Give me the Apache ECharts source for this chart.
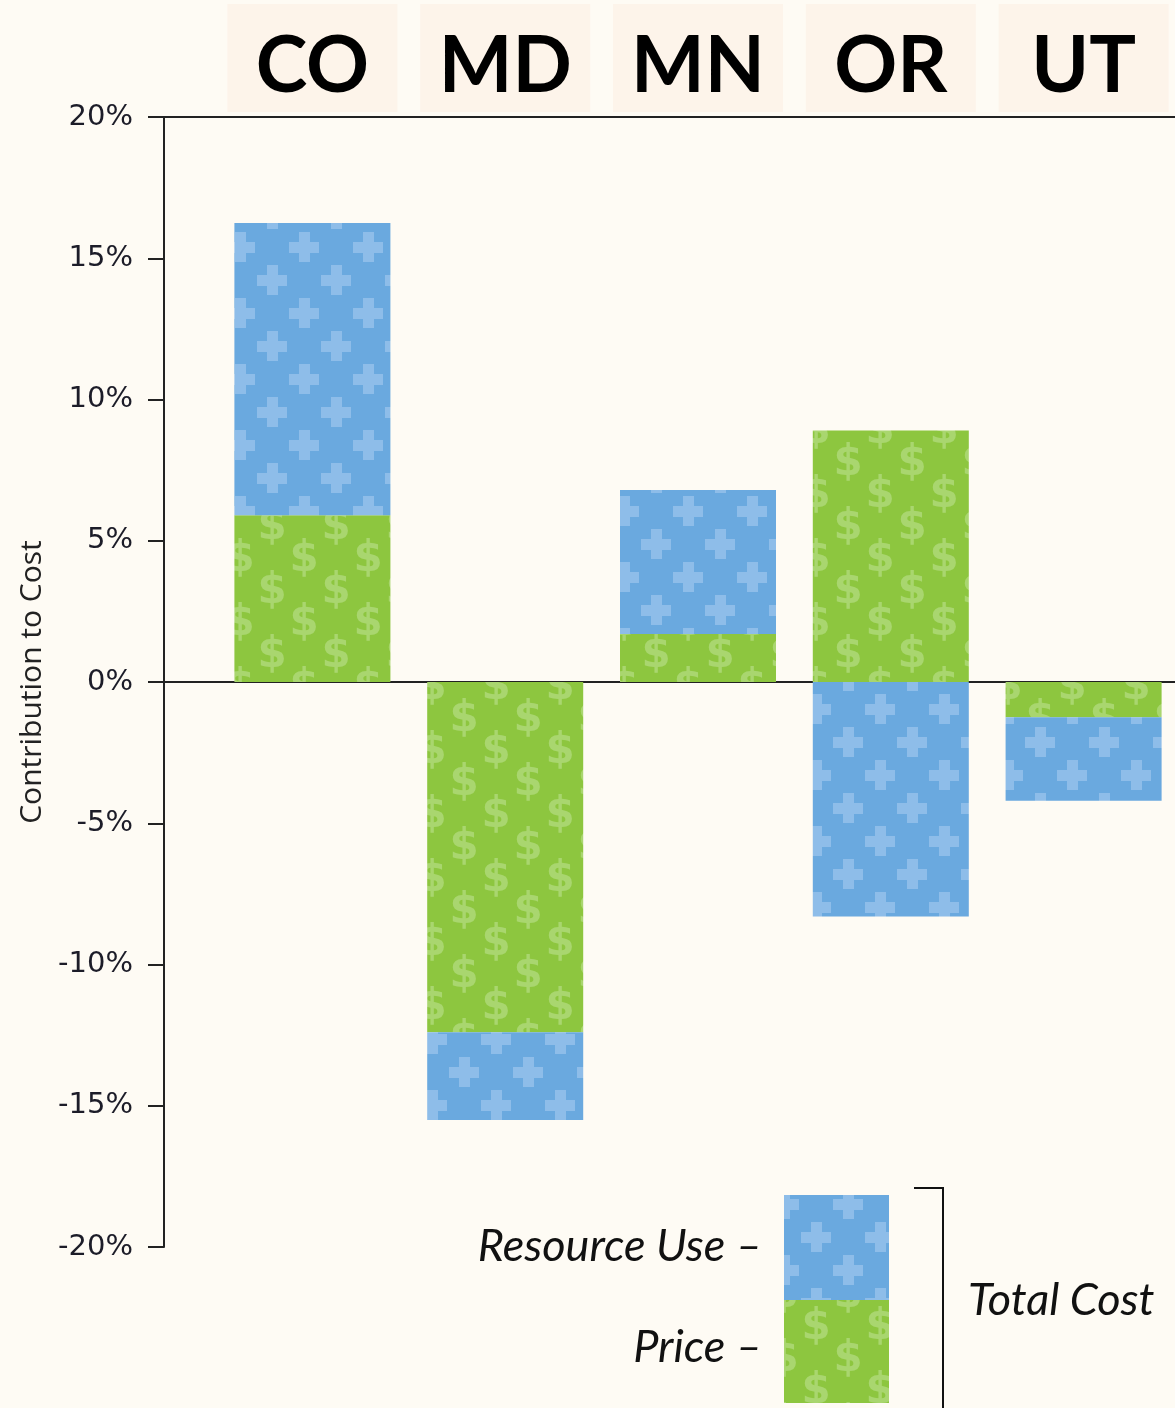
<!DOCTYPE html>
<html>
<head>
<meta charset="utf-8">
<script src="https://cdn.jsdelivr.net/npm/echarts@6/dist/echarts.min.js"></script>
<style>
  html, body { margin: 0; padding: 0; background: #fefbf4; }
  #chart { width: 1175px; height: 1408px; }
</style>
</head>
<body>
<div id="chart"></div>
<script>
const states = ['CO', 'MD', 'MN', 'OR', 'UT'];
const priceValues = [5.9, -12.4, 1.7, 8.9, -1.25];
const resourceValues = [10.35, -3.1, 5.1, -8.3, -2.95];
const yTicks = { min: -20, max: 20, step: 5 };

const BLUE = '#6aa9df', BLUE_LIGHT = '#8ebde9';
const GREEN = '#8dc63f', GREEN_LIGHT = '#a9d66f';

function crossPattern() {
    const c = document.createElement('canvas');
    c.width = 64; c.height = 66;
    const ctx = c.getContext('2d');
    ctx.fillStyle = BLUE;
    ctx.fillRect(0, 0, 64, 66);
    ctx.fillStyle = BLUE_LIGHT;
    const cross = (x, y) => {
        ctx.fillRect(x - 15, y - 5, 30, 11);
        ctx.fillRect(x - 5, y - 15, 11, 30);
    };
    [[16, 16], [48, 49], [-16, 49], [80, 49], [48, -17], [-16, -17], [16, 82], [80, -17], [-16, 115]].forEach(p => cross(p[0], p[1]));
    return c;
}

function dollarPattern() {
    const c = document.createElement('canvas');
    c.width = 64; c.height = 64;
    const ctx = c.getContext('2d');
    ctx.fillStyle = GREEN;
    ctx.fillRect(0, 0, 64, 64);
    ctx.fillStyle = GREEN_LIGHT;
    ctx.font = 'bold 42px "DejaVu Sans"';
    ctx.textAlign = 'center';
    ctx.textBaseline = 'middle';
    [[16, 16], [48, 48], [-16, 48], [80, 48], [48, -16], [-16, -16], [80, -16], [16, 80]].forEach(p => ctx.fillText('$', p[0], p[1]));
    return c;
}

const bluePat = { image: crossPattern(), repeat: 'repeat' };
const greenPat = { image: dollarPattern(), repeat: 'repeat' };

const chart = echarts.init(document.getElementById('chart'));
chart.setOption({
    backgroundColor: '#fefbf4',
    animation: false,
    grid: { left: 216, top: 117, width: 964, bottom: 161, outerBoundsMode: 'none', containLabel: false },
    xAxis: [
        {
            type: 'category',
            data: states,
            position: 'top',
            axisLine: { onZero: false, lineStyle: { color: '#222', width: 2 } },
            axisTick: { inside: true, length: 11, lineStyle: { color: '#222', width: 2 }, interval: 0 },
            axisLabel: {
                margin: 5,
                fontFamily: 'Lato',
                fontWeight: 'bold',
                fontSize: 78,
                color: '#000',
                backgroundColor: '#fdf4ea',
                width: 170,
                height: 90,
                lineHeight: 90,
                padding: [18, 0, 0, 0],
                align: 'center'
            }
        },
        {
            type: 'category',
            data: states,
            position: 'bottom',
            axisLine: { onZero: true, lineStyle: { color: '#222', width: 2 } },
            axisTick: { show: false },
            axisLabel: { show: false }
        }
    ],
    yAxis: {
        type: 'value',
        min: yTicks.min,
        max: yTicks.max,
        interval: yTicks.step,
        offset: 52,
        name: 'Contribution to Cost',
        nameLocation: 'middle',
        nameGap: 112,
        nameTextStyle: { fontFamily: 'Open Sans', fontSize: 30, color: '#222' },
        axisLine: { show: true, lineStyle: { color: '#222', width: 2 } },
        axisTick: { show: true, length: 16, lineStyle: { color: '#222', width: 2 } },
        axisLabel: {
            margin: 31,
            formatter: '{value}%',
            fontFamily: 'DejaVu Sans',
            fontSize: 29,
            color: '#1c1c28'
        },
        splitLine: { show: false }
    },
    series: [
        {
            name: 'Price',
            type: 'bar',
            stack: 'cost',
            barWidth: 156,
            data: priceValues,
            itemStyle: { color: greenPat }
        },
        {
            name: 'Resource Use',
            type: 'bar',
            stack: 'cost',
            barWidth: 156,
            data: resourceValues,
            itemStyle: { color: bluePat }
        }
    ]
});

// axis line extensions from the offset y axis to the grid, plus the legend
const topY = chart.convertToPixel({ yAxisIndex: 0 }, yTicks.max);
const zeroY = chart.convertToPixel({ yAxisIndex: 0 }, 0);
const lineStyle = { stroke: '#222', lineWidth: 2 };
const legendFont = 'italic 45px Lato';
chart.setOption({
    graphic: [
        { type: 'line', shape: { x1: 163, y1: topY, x2: 218, y2: topY }, style: lineStyle, z: 10 },
        { type: 'line', shape: { x1: 163, y1: zeroY, x2: 218, y2: zeroY }, style: lineStyle, z: 10 },
        { type: 'rect', shape: { x: 784, y: 1195, width: 105, height: 105 }, style: { fill: bluePat } },
        { type: 'rect', shape: { x: 784, y: 1300, width: 105, height: 103 }, style: { fill: greenPat } },
        { type: 'text', x: 762, y: 1246, style: { text: 'Resource Use –', font: legendFont, fill: '#111', align: 'right', verticalAlign: 'middle' } },
        { type: 'text', x: 762, y: 1347, style: { text: 'Price –', font: legendFont, fill: '#111', align: 'right', verticalAlign: 'middle' } },
        { type: 'polyline', shape: { points: [[914, 1188], [943, 1188], [943, 1408]] }, style: { stroke: '#111', lineWidth: 2, fill: null } },
        { type: 'text', x: 968, y: 1300, style: { text: 'Total Cost', font: legendFont, fill: '#111', align: 'left', verticalAlign: 'middle' } }
    ]
});
</script>
</body>
</html>
